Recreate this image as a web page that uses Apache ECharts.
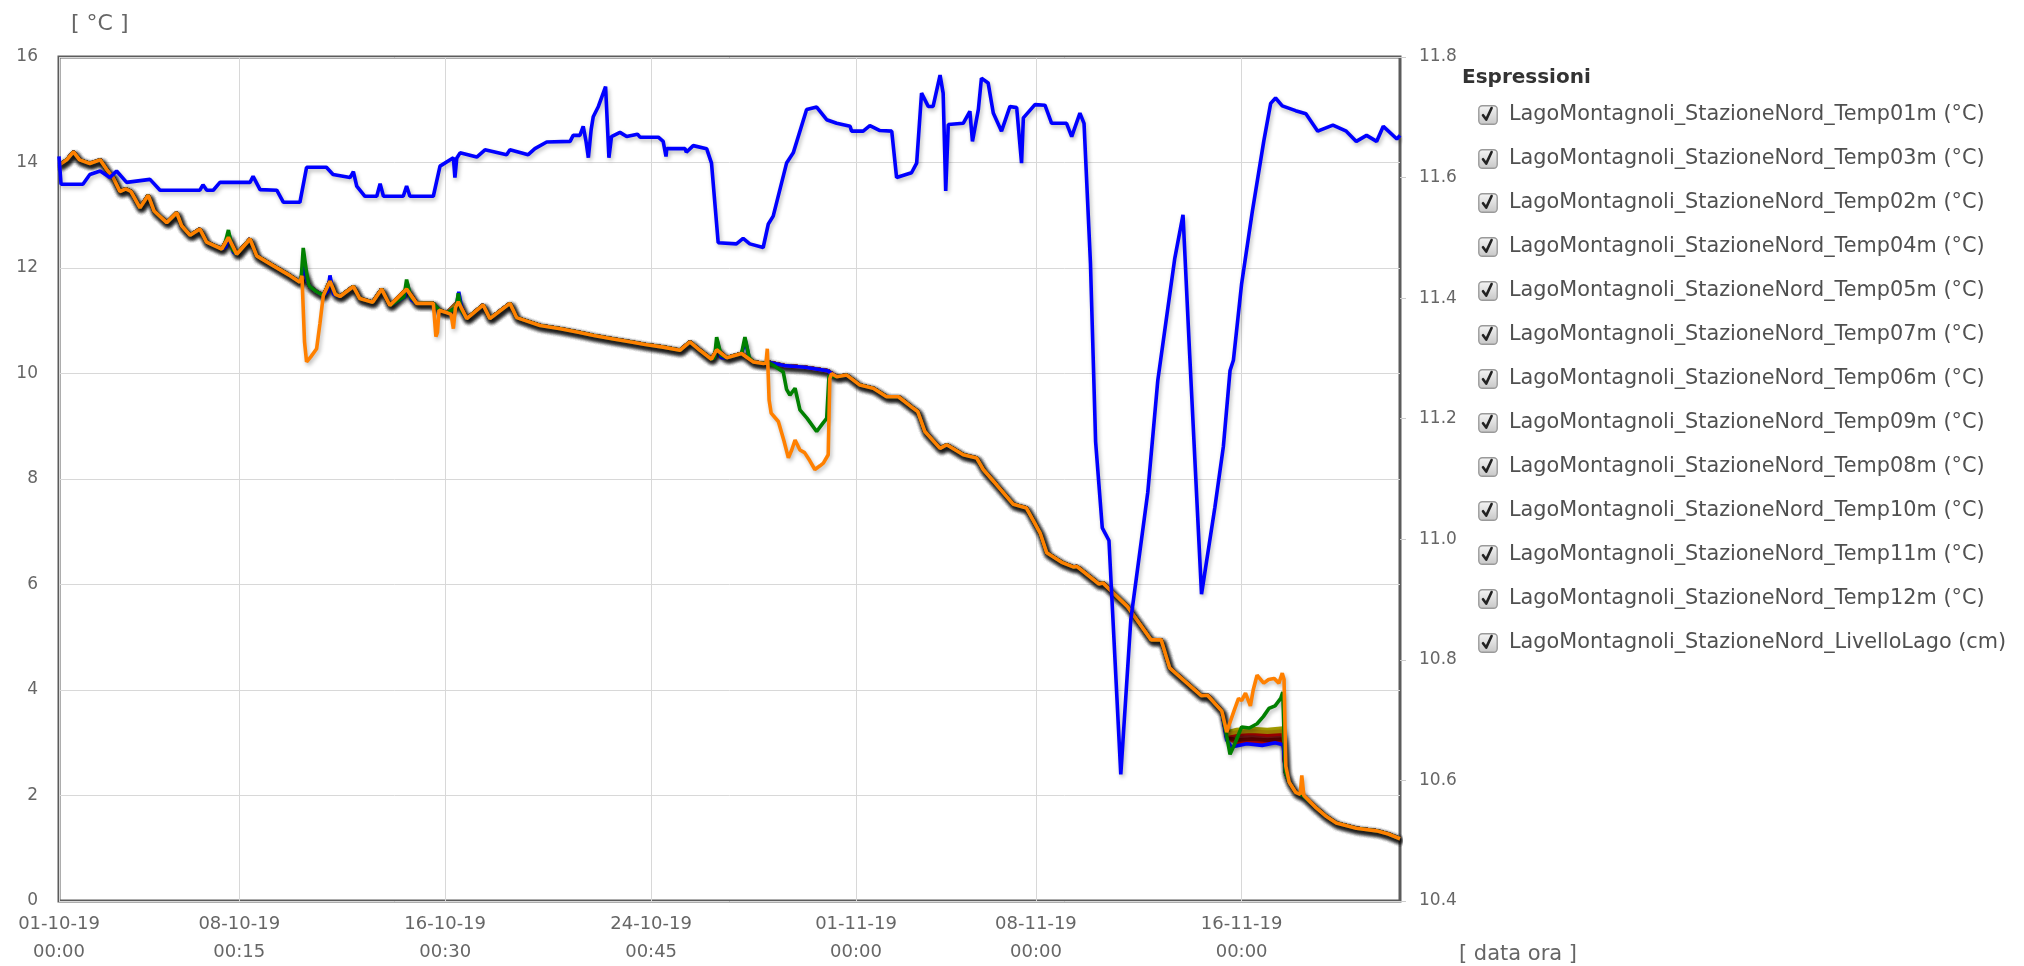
<!DOCTYPE html>
<html><head><meta charset="utf-8">
<script src="https://cdn.jsdelivr.net/npm/echarts@6/dist/echarts.min.js"></script>
<style>html,body{margin:0;padding:0;background:#fff}#c{width:2024px;height:966px}</style>
</head><body><div id="c"></div><script>
// ---------- time base ----------
const T0 = Date.UTC(2019, 9, 1, 0, 0);
const DAY = 86400000;
const xEndDay = 52.16;
const xTickLabels = ['2019-10-01T00:00','2019-10-08T00:15','2019-10-16T00:30','2019-10-24T00:45','2019-11-01T00:00','2019-11-08T00:00','2019-11-16T00:00'];
const leftTicks = {min: 0, max: 16, interval: 2};
const rightTicks = {min: 10.4, max: 11.8, interval: 0.2};

const seriesNames = [
  'LagoMontagnoli_StazioneNord_Temp01m (°C)','LagoMontagnoli_StazioneNord_Temp03m (°C)',
  'LagoMontagnoli_StazioneNord_Temp02m (°C)','LagoMontagnoli_StazioneNord_Temp04m (°C)',
  'LagoMontagnoli_StazioneNord_Temp05m (°C)','LagoMontagnoli_StazioneNord_Temp07m (°C)',
  'LagoMontagnoli_StazioneNord_Temp06m (°C)','LagoMontagnoli_StazioneNord_Temp09m (°C)',
  'LagoMontagnoli_StazioneNord_Temp08m (°C)','LagoMontagnoli_StazioneNord_Temp10m (°C)',
  'LagoMontagnoli_StazioneNord_Temp11m (°C)','LagoMontagnoli_StazioneNord_Temp12m (°C)',
  'LagoMontagnoli_StazioneNord_LivelloLago (cm)'];
const seriesColors = ['#7a0000','#cc0000','#3a0000','#a09a00','#e00000','#8b1a1a','#600000','#b30000','#9a7a00','#0000ff','#008000','#ff8000','#0000ff'];

// ---------- mixed water column temperature [day, °C] ----------
const baseTemp = [[0,13.95],[0.3,14.05],[0.56,14.2],[0.8,14.05],[1.2,13.98],[1.6,14.05],[1.85,13.87],[2.1,13.72],[2.37,13.45],[2.6,13.5],[2.8,13.45],[3.15,13.14],[3.47,13.38],[3.7,13.08],[4.19,12.86],[4.58,13.05],[4.77,12.8],[5.1,12.62],[5.48,12.74],[5.74,12.49],[6.33,12.36],[6.59,12.58],[6.91,12.26],[7.43,12.55],[7.69,12.23],[8.34,12.04],[9.0,11.85],[9.37,11.73],[9.5,11.92],[9.75,11.65],[10.02,11.55],[10.28,11.48],[10.54,11.75],[10.75,11.5],[10.93,11.46],[11.45,11.65],[11.7,11.42],[12.2,11.35],[12.55,11.6],[12.87,11.29],[13.52,11.6],[13.91,11.33],[14.56,11.33],[14.8,11.2],[15.1,11.15],[15.53,11.36],[15.86,11.04],[16.5,11.3],[16.76,11.04],[17.54,11.33],[17.8,11.06],[18.71,10.91],[19.5,10.85],[20.2,10.78],[20.8,10.72],[21.5,10.66],[22.2,10.6],[22.8,10.55],[23.5,10.5],[24.15,10.44],[24.54,10.6],[24.93,10.44],[25.38,10.27],[25.58,10.45],[25.97,10.3],[26.55,10.38],[27.0,10.22],[27.4,10.19],[27.55,10.22],[28.2,10.15],[29.0,10.12],[29.9,10.05],[30.25,9.94],[30.64,9.97],[31.15,9.78],[31.67,9.72],[32.19,9.56],[32.65,9.56],[33.23,9.34],[33.4,9.28],[33.68,8.9],[34.27,8.58],[34.53,8.65],[35.17,8.46],[35.69,8.4],[35.95,8.18],[36.47,7.89],[37.12,7.52],[37.63,7.45],[38.16,6.98],[38.42,6.6],[39.0,6.42],[39.47,6.33],[39.6,6.34],[40.45,6.01],[40.6,6.03],[41.56,5.58],[42.48,4.95],[42.87,4.95],[43.2,4.42],[44.44,3.89],[44.67,3.9],[45.23,3.6],[45.42,3.15],[45.8,3.1],[46.3,3.12],[46.8,3.1],[47.2,3.12],[47.62,3.1],[47.7,2.45],[47.85,2.25],[48.1,2.06],[48.37,2.0],[48.89,1.77],[49.3,1.6],[49.68,1.48],[50.46,1.38],[51.25,1.33],[51.7,1.27],[52.16,1.18]];

// ---------- sensor specific excursions [day, °C] ----------
const t12Dips = [
  [[9.45,11.85],[9.55,10.6],[9.63,10.22],[9.8,10.32],[10.02,10.47],[10.15,10.95],[10.28,11.48]],
  [[14.6,11.3],[14.66,10.7],[14.72,10.78],[14.78,11.2]],
  [[15.25,11.12],[15.34,10.85],[15.42,11.25]],
  [[27.5,10.2],[27.55,10.47],[27.62,9.5],[27.7,9.25],[27.98,9.09],[28.2,8.72],[28.37,8.4],[28.5,8.55],[28.63,8.74],[28.82,8.55],[29.0,8.5],[29.2,8.35],[29.4,8.18],[29.6,8.25],[29.73,8.3],[29.92,8.46],[29.98,9.9],[30.05,10.0]],
  [[45.42,3.2],[45.5,3.32],[45.7,3.6],[45.88,3.84],[46.0,3.8],[46.15,3.94],[46.34,3.7],[46.45,4.0],[46.6,4.28],[46.86,4.13],[47.05,4.2],[47.26,4.22],[47.45,4.13],[47.58,4.32],[47.65,4.2],[47.72,2.55]],
  [[48.28,2.02],[48.34,2.38],[48.42,2.0]]];
const t11Spikes = [
  [[6.45,12.45],[6.59,12.72],[6.75,12.35]],
  [[9.42,11.8],[9.5,12.38],[9.62,11.95],[9.7,11.7]],
  [[13.42,11.45],[13.52,11.78],[13.68,11.45]],
  [[15.45,11.25],[15.53,11.52],[15.65,11.2]],
  [[25.5,10.3],[25.58,10.69],[25.75,10.35]],
  [[26.55,10.38],[26.68,10.69],[26.85,10.3]],
  [[27.6,10.2],[27.8,10.15],[28.17,10.03],[28.3,9.7],[28.43,9.59],[28.63,9.72],[28.82,9.31],[29.1,9.15],[29.47,8.9],[29.7,9.05],[29.86,9.15],[29.95,9.95]],
  [[45.42,3.12],[45.55,2.78],[45.75,3.0],[46.0,3.3],[46.3,3.28],[46.6,3.36],[46.85,3.5],[47.06,3.65],[47.3,3.7],[47.52,3.84],[47.6,3.96],[47.68,2.7]]];
const t10Spikes = [
  [[6.5,12.4],[6.62,12.62],[6.78,12.3]],
  [[9.45,11.8],[9.52,12.1],[9.65,11.75]],
  [[10.45,11.55],[10.54,11.86],[10.68,11.5]],
  [[13.45,11.45],[13.55,11.7],[13.7,11.4]],
  [[15.45,11.25],[15.55,11.55],[15.7,11.15]],
  [[25.5,10.3],[25.6,10.62],[25.75,10.3]],
  [[26.6,10.35],[26.7,10.62],[26.85,10.28]],
  [[45.42,3.05],[45.6,2.92],[46.2,2.98],[46.8,2.95],[47.3,3.0],[47.62,2.96]]];
const t01Plateau = [[45.42,3.12],[45.8,3.08],[46.4,3.1],[47.0,3.07],[47.62,3.1]];
const t03Plateau = [[45.42,3.15],[45.8,3.14],[46.4,3.16],[47.0,3.13],[47.62,3.15]];
const t02Plateau = [[45.42,3.1],[45.8,3.02],[46.4,3.05],[47.0,3.03],[47.62,3.05]];
const t04Plateau = [[45.42,3.2],[45.8,3.25],[46.4,3.27],[47.0,3.25],[47.62,3.28]];
const t05Plateau = [[45.42,3.1],[45.8,3.0],[46.4,3.02],[47.0,2.99],[47.62,3.02]];
const t07Plateau = [[45.42,3.12],[45.8,3.1],[46.4,3.12],[47.0,3.09],[47.62,3.11]];
const t06Plateau = [[45.42,3.1],[45.8,3.05],[46.4,3.07],[47.0,3.05],[47.62,3.07]];
const t09Plateau = [[45.42,3.14],[45.8,3.16],[46.4,3.18],[47.0,3.15],[47.62,3.17]];
const t08Plateau = [[45.42,3.16],[45.8,3.2],[46.4,3.22],[47.0,3.2],[47.62,3.22]];

// ---------- lake level [day, value] (right axis) ----------
const lakeLevel = [[0,11.635],[0.08,11.589],[0.93,11.589],[1.2,11.605],[1.6,11.611],[1.98,11.6],[2.24,11.611],[2.63,11.592],[3.54,11.597],[3.93,11.579],[5.48,11.579],[5.6,11.588],[5.75,11.579],[6.0,11.579],[6.26,11.592],[7.43,11.592],[7.55,11.602],[7.82,11.58],[8.47,11.579],[8.73,11.559],[9.37,11.559],[9.63,11.617],[10.4,11.617],[10.66,11.605],[11.32,11.6],[11.45,11.61],[11.58,11.586],[11.9,11.569],[12.36,11.569],[12.49,11.59],[12.62,11.569],[13.39,11.569],[13.52,11.586],[13.65,11.569],[14.56,11.569],[14.82,11.619],[15.34,11.633],[15.4,11.6],[15.47,11.632],[15.6,11.641],[16.25,11.634],[16.57,11.646],[17.41,11.638],[17.54,11.646],[18.25,11.638],[18.51,11.648],[18.97,11.659],[19.88,11.66],[20.0,11.67],[20.26,11.67],[20.39,11.685],[20.5,11.66],[20.59,11.633],[20.7,11.68],[20.78,11.701],[20.98,11.718],[21.26,11.751],[21.39,11.633],[21.49,11.668],[21.82,11.675],[22.08,11.668],[22.5,11.672],[22.6,11.667],[23.31,11.667],[23.5,11.66],[23.61,11.635],[23.64,11.648],[24.35,11.648],[24.4,11.642],[24.67,11.653],[25.19,11.648],[25.38,11.624],[25.64,11.492],[26.35,11.49],[26.61,11.499],[26.87,11.49],[27.39,11.484],[27.59,11.523],[27.78,11.536],[28.3,11.624],[28.56,11.641],[29.08,11.713],[29.47,11.717],[29.86,11.696],[30.25,11.69],[30.77,11.685],[30.83,11.677],[31.28,11.677],[31.54,11.686],[31.93,11.678],[32.39,11.677],[32.58,11.6],[33.16,11.608],[33.36,11.624],[33.55,11.74],[33.81,11.718],[34.0,11.718],[34.27,11.77],[34.39,11.74],[34.49,11.578],[34.59,11.688],[35.17,11.69],[35.43,11.71],[35.53,11.66],[35.76,11.713],[35.88,11.765],[36.14,11.757],[36.34,11.707],[36.66,11.677],[36.99,11.718],[37.25,11.716],[37.44,11.624],[37.51,11.699],[37.96,11.721],[38.35,11.72],[38.61,11.69],[38.87,11.69],[39.19,11.69],[39.39,11.668],[39.71,11.707],[39.87,11.69],[40.12,11.458],[40.32,11.162],[40.58,11.019],[40.84,10.998],[41.3,10.61],[41.69,10.867],[42.35,11.078],[42.74,11.264],[43.07,11.365],[43.4,11.466],[43.72,11.538],[43.98,11.306],[44.44,10.909],[44.96,11.053],[45.29,11.154],[45.55,11.28],[45.68,11.297],[46.0,11.424],[46.41,11.542],[46.86,11.66],[47.13,11.723],[47.32,11.732],[47.58,11.719],[48.1,11.711],[48.5,11.706],[48.96,11.677],[49.55,11.687],[50.07,11.677],[50.46,11.66],[50.86,11.67],[51.25,11.66],[51.51,11.685],[52.04,11.664],[52.16,11.67]];

// ---------- helpers ----------
function toMs(pts){ return pts.map(p => [T0 + p[0]*DAY, p[1]]); }
function withExcursions(base, excursions){
  let pts = base.slice();
  excursions.forEach(ex => {
    const a = ex[0][0], b = ex[ex.length-1][0];
    pts = pts.filter(p => p[0] < a || p[0] > b).concat(ex);
  });
  pts.sort((p,q) => p[0]-q[0]);
  return toMs(pts);
}
const pad = n => String(n).padStart(2,'0');
function fmtTick(ms){
  const d = new Date(ms);
  return pad(d.getUTCDate())+'-'+pad(d.getUTCMonth()+1)+'-'+String(d.getUTCFullYear()).slice(2)+'\n'+pad(d.getUTCHours())+':'+pad(d.getUTCMinutes());
}
const tickMs = xTickLabels.map(s => Date.parse(s+'Z'));

const seriesData = [
  withExcursions(baseTemp,[t01Plateau]), withExcursions(baseTemp,[t03Plateau]),
  withExcursions(baseTemp,[t02Plateau]), withExcursions(baseTemp,[t04Plateau]),
  withExcursions(baseTemp,[t05Plateau]), withExcursions(baseTemp,[t07Plateau]),
  withExcursions(baseTemp,[t06Plateau]), withExcursions(baseTemp,[t09Plateau]),
  withExcursions(baseTemp,[t08Plateau]), withExcursions(baseTemp,t10Spikes),
  withExcursions(baseTemp,t11Spikes), withExcursions(baseTemp,t12Dips),
  toMs(lakeLevel)];

const checkSvg = "<svg xmlns='http://www.w3.org/2000/svg' width='26' height='20' viewBox='0 0 26 20'><defs><linearGradient id='g' x1='0' y1='0' x2='0' y2='1'><stop offset='0' stop-color='#f4f4f4'/><stop offset='1' stop-color='#c8c8c8'/></linearGradient></defs><rect x='0.8' y='0.8' width='18.4' height='18.4' rx='3.5' fill='url(#g)' stroke='#9a9a9a' stroke-width='1.4'/><path d='M5 10.2 L8.2 14.6 L13.6 3' fill='none' stroke='#222' stroke-width='2.6' stroke-linecap='round' stroke-linejoin='round'/></svg>";
const checkIcon = 'image://data:image/svg+xml;charset=utf-8,' + encodeURIComponent(checkSvg);

const FONT = 'DejaVu Sans';
const chart = echarts.init(document.getElementById('c'), null, {renderer:'canvas'});
chart.setOption({
  animation: false,
  backgroundColor: '#ffffff',
  grid: {left: 59, top: 57, right: 624, bottom: 61, show: true, borderColor: '#5c5c5c', borderWidth: 3, backgroundColor: 'transparent'},
  xAxis: {
    type: 'value', min: T0, max: T0 + xEndDay*DAY,
    axisLine: {show: false}, axisTick: {show: false, customValues: tickMs},
    axisLabel: {customValues: tickMs, formatter: fmtTick, fontFamily: FONT, fontSize: 18, color: '#666', lineHeight: 28, margin: 9},
    splitLine: {show: true, lineStyle: {color: '#d8d8d8', width: 1}}
  },
  yAxis: [
    {type: 'value', min: leftTicks.min, max: leftTicks.max, interval: leftTicks.interval,
     axisLine: {show: false}, axisTick: {show: false},
     axisLabel: {fontFamily: FONT, fontSize: 17, color: '#666', margin: 21},
     splitLine: {show: true, lineStyle: {color: '#d8d8d8', width: 1}}},
    {type: 'value', min: rightTicks.min, max: rightTicks.max, interval: rightTicks.interval, position: 'right',
     axisLine: {show: false}, axisTick: {show: true, length: 6, lineStyle: {color: '#cccccc'}},
     axisLabel: {fontFamily: FONT, fontSize: 17, color: '#666', margin: 19, formatter: v => v.toFixed(1)},
     splitLine: {show: false}}
  ],
  legend: {
    orient: 'vertical', left: 1473, top: 99, itemWidth: 26, itemHeight: 20, itemGap: 22,
    icon: checkIcon, data: seriesNames,
    textStyle: {fontFamily: FONT, fontSize: 20.8, color: '#505050', lineHeight: 22}
  },
  graphic: [
    {type: 'text', left: 71, top: 13, style: {text: '[ °C ]', font: '22px "DejaVu Sans"', fill: '#666'}},
    {type: 'text', left: 1459, top: 944, style: {text: '[ data ora ]', font: '21px "DejaVu Sans"', fill: '#666'}},
    {type: 'text', left: 1462, top: 68, style: {text: 'Espressioni', font: 'bold 20px "DejaVu Sans"', fill: '#333'}}
  ],
  series: seriesNames.map((name, i) => ({
    name, type: 'line', yAxisIndex: i === 12 ? 1 : 0,
    data: seriesData[i], showSymbol: false, symbol: 'none',
    color: seriesColors[i],
    lineStyle: {width: 3.6, color: seriesColors[i], shadowColor: 'rgba(0,0,0,0.28)', shadowBlur: 4, shadowOffsetX: 1.5, shadowOffsetY: 2.5},
    z: 2 + i
  }))
});
</script></body></html>
